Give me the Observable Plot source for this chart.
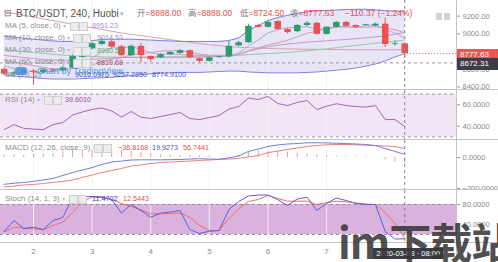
<!DOCTYPE html>
<html><head><meta charset="utf-8">
<script src="https://cdn.jsdelivr.net/npm/d3@7"></script>
<script src="https://cdn.jsdelivr.net/npm/@observablehq/plot@0.6"></script>
<style>
html,body{margin:0;padding:0;background:#fff;}
#chart{position:relative;width:498px;height:262px;overflow:hidden;font-family:"Liberation Sans","Noto Sans CJK SC",sans-serif;background:#fff;}
#chart svg{position:absolute;left:0;overflow:hidden;}
.t{position:absolute;white-space:nowrap;line-height:1;}
.sep{position:absolute;left:0;width:498px;height:1px;background:#c4c4c4;}
.ic{position:absolute;width:7px;height:7px;border:1px solid #cfcfcf;background:#ececec;}
</style></head><body><div id="chart"></div>
<script>
// ---------- data ----------
const times = d3.range(42).map(i => new Date(Date.UTC(2020, 2, 1, 12) + i * 4 * 3600 * 1000));
const opens  = [8600,8545,8560,8580,8565,8590,8585,8615,8735,8830,8880,8910,8855,8755,8860,8745,8730,8765,8780,8810,8720,8690,8735,8740,8865,8900,9095,9075,9140,9050,9025,9095,9120,8995,9075,9130,9095,9095,9090,9110,8880,8888];
const highs  = [8615,8580,8600,8600,8605,8610,8630,8760,8830,8905,8950,8925,8870,8875,8890,8750,8775,8800,8825,8820,8730,8740,8750,8915,8915,9110,9110,9145,9150,9060,9105,9140,9130,9085,9140,9140,9100,9110,9120,9180,8920,8888];
const lows   = [8530,8520,8545,8420,8550,8570,8570,8600,8725,8820,8870,8840,8740,8745,8675,8680,8720,8755,8770,8720,8675,8680,8725,8730,8855,8890,9060,9065,9040,9000,9015,9085,8985,8985,9065,9075,9060,9085,9080,8845,8860,8724.5];
const closes = [8545,8560,8580,8565,8590,8585,8615,8745,8810,8890,8915,8850,8755,8860,8755,8710,8765,8790,8810,8730,8690,8730,8740,8860,8900,9085,9075,9130,9050,9015,9095,9120,8995,9075,9130,9085,9075,9100,9110,8880,8888,8777.63];
const ma5  = [8640,8610,8590,8570,8568,8576,8587,8620,8669,8729,8795,8842,8844,8854,8827,8786,8769,8776,8766,8761,8757,8750,8740,8750,8784,8863,8932,9010,9048,9071,9073,9082,9055,9060,9083,9081,9072,9093,9100,9050,9011,8951.23];
const ma10 = [8700,8680,8660,8640,8620,8605,8600,8610,8625,8648,8686,8714,8732,8761,8778,8790,8805,8810,8810,8794,8771,8759,8758,8758,8772,8810,8841,8875,8899,8927,8968,9007,9032,9054,9077,9077,9077,9074,9080,9066,9046,9014.53];
const ma30 = [8820,8810,8800,8790,8780,8770,8760,8755,8750,8745,8740,8738,8736,8735,8734,8733,8732,8733,8735,8737,8740,8744,8748,8752,8758,8766,8772,8778,8784,8790,8800,8810,8820,8832,8845,8858,8870,8882,8895,8905,8918,8930.57];
const ma60 = [9250,9230,9210,9190,9170,9150,9130,9110,9090,9070,9050,9030,9010,8995,8980,8965,8950,8935,8920,8905,8890,8878,8868,8858,8850,8845,8840,8836,8833,8830,8828,8826,8825,8824,8823,8822,8821,8821,8820,8820,8820,8819.68];
const bbUpper = [8975,8965,8950,8940,8930,8920,8915,8915,8915,8925,8935,8940,8940,8940,8935,8930,8925,8920,8915,8915,8915,8915,8915,8925,8955,9040,9095,9150,9185,9210,9230,9250,9260,9265,9270,9275,9278,9278,9272,9262,9255,9257.285];
const bbLower = [8540,8525,8515,8505,8495,8490,8490,8490,8495,8500,8505,8510,8520,8530,8540,8550,8555,8560,8565,8565,8565,8570,8575,8580,8580,8570,8565,8560,8560,8560,8560,8565,8570,8580,8590,8600,8615,8635,8660,8695,8740,8774.91];
const bbBasis = [8757,8745,8733,8722,8712,8705,8702,8702,8705,8712,8720,8725,8730,8735,8737,8740,8740,8740,8740,8740,8740,8742,8745,8752,8768,8805,8830,8855,8872,8885,8895,8907,8915,8922,8930,8937,8946,8956,8966,8978,8997,9016.0975];
const rsi = [36.9,41.5,38,37.3,36.8,41.5,43.4,50.4,53.3,55.6,57,54.2,48.6,53.7,48.4,47.2,49,50.9,52.8,47.2,46.2,48.1,50,56,58.4,66.2,65,67.8,61.2,59.3,62.2,64,55.6,58.7,61,59.3,58.4,57.8,59.3,46.2,46.2,39.601];
const macd = [-173,-166,-161,-154,-145,-135,-116,-97,-81,-65,-45,-29,-23,-16,-15,-15,-15,-14,-13,-10,-8,-10,-11,-3,10,39,55,71,81,87,90,95,95,94,92,90,87,84,77,58,39,19.9273];
const signal = [-190,-184,-177,-174,-168,-161,-155,-145,-129,-113,-97,-84,-71,-55,-48,-39,-32,-29,-26,-23,-19,-16,-13,-10,-6,3,13,32,41,52,61,71,77,82,84,84,82,79,77,74,71,56.7441];
const hist = [17,18,16,20,23,26,39,48,48,48,52,55,48,39,33,24,17,15,13,13,11,6,2,7,16,36,42,39,40,35,29,24,18,12,8,6,5,5,0,-16,-32,-36.8168];
const stochK = [26,48,31.4,34.6,30,48,54,94,96,96,94,90,63,80,68,54.6,62.6,65,68,30,22,26.6,28,70,86,97,99,99,90,78,91,94.6,68,82,93,88,82,80,80,26,11,11.4702];
const stochD = [25,34.6,33,31.4,29.4,38,44.6,64,86,95,96,90,82,76,69,61.4,61.4,62,62.6,54.6,38,28,28,52,71.4,86,90,98,92,86.6,86.6,86.6,80,84,86.6,85.4,83,81,80,64,42,12.5443];
const dayTicks = [2,3,4,5,6,7].map(d => new Date(Date.UTC(2020, 2, d)));
const priceTicks = [8400,8600,8800,9000,9200];
const rsiTicks = [40,60];
const macdTicks = [-200,0];
const stochTicks = [40,80];
const lastClose = 8777.63, crossPrice = 8672.31;

// ---------- layout helpers ----------
const chart = document.getElementById("chart");
const rows = times.map((t,i) => ({t, o:opens[i], h:highs[i], l:lows[i], c:closes[i],
  ma5:ma5[i], ma10:ma10[i], ma30:ma30[i], ma60:ma60[i], bu:bbUpper[i], bl:bbLower[i], bb:bbBasis[i],
  rsi:rsi[i], macd:macd[i], sig:signal[i], hist:hist[i], k:stochK[i], d:stochD[i]}));
const lastT = times[times.length-1];
const X_DOMAIN = [new Date(Date.UTC(2020,2,1,10,29)), new Date(Date.UTC(2020,2,9,5,12))];
const GREEN = "#2a9d6c", RED = "#e9524f";
const grid = Plot.ruleX(dayTicks, {stroke:"#f1f1f1"});
const cross = Plot.ruleX([lastT], {stroke:"#8a8a8a", strokeDasharray:"3,3"});
const ax = (ticks, fmt) => Plot.axisY({anchor:"right", ticks, tickFormat:d3.format(fmt), tickSize:3, tickPadding:3, label:null, stroke:"#9a9a9a", fill:"#8a8a8a", fontSize:7.5});

function panel(top, h, ydom, yrange, marks, mb=0) {
  const p = Plot.plot({width:498, height:h, marginLeft:0, marginRight:42, marginTop:0, marginBottom:mb,
    x:{type:"utc", domain:X_DOMAIN, range:[0,456], axis:null},
    y:{domain:ydom, range:yrange, axis:null},
    color:{type:"identity"},
    style:{fontFamily:"'Liberation Sans',sans-serif", fontSize:"7.5px", background:"transparent", overflow:"hidden"},
    marks});
  p.style.top = top + "px";
  chart.appendChild(p);
  return p;
}
function txt(x, y, s, color, size=8, extra="") {
  const d = document.createElement("div");
  d.className = "t"; d.style.left = x+"px"; d.style.top = (y - size*0.55)+"px";
  d.style.fontSize = size+"px"; d.style.color = color; d.style.cssText += extra;
  d.innerHTML = s; chart.appendChild(d); return d;
}
function icons(x, y) {
  for (const dx of [0, 9]) { const e = document.createElement("div"); e.className="ic";
    e.style.left=(x+dx)+"px"; e.style.top=(y-4)+"px"; chart.appendChild(e); }
}

// ---------- main price panel ----------
const mainP = panel(0, 89, [8400,9200], [86.5,15.7], [
  Plot.areaY(rows, {x:"t", y1:"bl", y2:"bu", fill:"#e7e5f6", curve:"linear"}),
  grid,
  Plot.ruleY([crossPrice], {stroke:"#9a9a9a", strokeDasharray:"3,3"}),
  Plot.line(rows, {x:"t", y:"ma60", stroke:"#d9a0b8", strokeWidth:1}),
  Plot.line(rows, {x:"t", y:"ma30", stroke:"#9cc7a4", strokeWidth:1}),
  Plot.line(rows, {x:"t", y:"ma10", stroke:"#d69ab4", strokeWidth:1}),
  Plot.line(rows, {x:"t", y:"bb", stroke:"#c99ac0", strokeWidth:1}),
  Plot.line(rows, {x:"t", y:"ma5", stroke:"#b7a3dd", strokeWidth:1}),
  Plot.line(rows, {x:"t", y:"bu", stroke:"#7f7fe6", strokeWidth:1}),
  Plot.line(rows, {x:"t", y:"bl", stroke:"#7f7fe6", strokeWidth:1}),
  Plot.ruleY([lastClose], {x1:lastT, x2:X_DOMAIN[1], stroke:RED, strokeDasharray:"1,2"}),
  Plot.ruleX(rows, {x:"t", y1:"l", y2:"h", stroke:d => d.c >= d.o ? GREEN : RED, strokeWidth:1}),
  Plot.ruleX(rows, {x:"t", y1:"o", y2:d => Math.abs(d.c-d.o) < 8 ? d.o + (d.c >= d.o ? 8 : -8) : d.c,
    stroke:d => d.c >= d.o ? GREEN : RED, strokeWidth:6.5, strokeLinecap:"butt"}),
  cross,
  ax(priceTicks, ".2f")
]);

// ---------- RSI ----------
panel(90, 49, [40,60], [35.7,14.3], [
  Plot.rect([0], {x1:X_DOMAIN[0], x2:X_DOMAIN[1], y1:30, y2:70, fill:"#f2e5f5"}),
  grid,
  Plot.ruleY([70,30], {stroke:"#9a9a9a", strokeDasharray:"3,3"}),
  Plot.line(rows, {x:"t", y:"rsi", stroke:"#9a6bb5", strokeWidth:1}),
  cross,
  ax(rsiTicks, ".4f")
]);

// ---------- MACD ----------
panel(140, 49, [-200,0], [48,17], [
  grid,
  Plot.ruleX(rows, {x:"t", y1:0, y2:"hist", stroke:"#f29a9a", strokeWidth:1}),
  Plot.line(rows, {x:"t", y:"sig", stroke:"#ee7f7f", strokeWidth:1}),
  Plot.line(rows, {x:"t", y:"macd", stroke:"#6b7fe3", strokeWidth:1}),
  cross,
  ax(macdTicks, ".4f")
]);

// ---------- Stoch + x axis ----------
panel(190, 72, [40,80], [34,14], [
  Plot.rect([0], {x1:X_DOMAIN[0], x2:X_DOMAIN[1], y1:20, y2:80, fill:"#d9b3dd"}),
  grid,
  Plot.ruleY([80,20], {stroke:"#9a8a9c", strokeDasharray:"3,3"}),
  Plot.line(rows, {x:"t", y:"d", stroke:"#ee6f6f", strokeWidth:1}),
  Plot.line(rows, {x:"t", y:"k", stroke:"#5c5cdc", strokeWidth:1}),
  cross,
  ax(stochTicks, ".4f"),
  Plot.axisX({ticks:dayTicks, tickFormat:d3.utcFormat("%-d"), tickSize:0, tickPadding:6, label:null, fill:"#8a8a8a", fontSize:8})
], 20);

// separators and right axis line
for (const y of [89,139,189,242]) { const s=document.createElement("div"); s.className="sep"; s.style.top=y+"px"; chart.appendChild(s); }
{ const v=document.createElement("div"); v.style.cssText="position:absolute;left:456px;top:0;width:1px;height:262px;background:#c4c4c4"; chart.appendChild(v); }

// price label boxes from the main panel scale
const ys = mainP.scale("y"), xs = mainP.scale("x");
txt(457, ys.apply(lastClose), "8777.63", "#fff", 8, "background:#ec5552;padding:2px 3px 2px 3px;width:35px;");
txt(457, ys.apply(crossPrice), "8672.31", "#fff", 8, "background:#3b3d45;padding:2px 3px 2px 3px;width:35px;");
txt(xs.apply(lastT) - 31, 252, "2020-03-08 · 08:00", "#fff", 7.5, "background:#3b3d45;padding:2px 3px;");

// ---------- legends ----------
txt(4, 14, "⊟", "#777", 9);
txt(16, 14, "BTC/USDT, 240, Huobi", "#555", 10);
txt(120, 14, "▾", "#aaa", 7);
const hdr = [["开","=8888.00",137],["高","=8888.00",188],["低","=8724.50",240],["收","=8777.63",290]];
for (const [k,v,x] of hdr) txt(x, 14, `<span style="color:#777">${k}</span>${v}`, "#e5504d", 8.5);
txt(345, 14, "−110.37 (−1.24%)", "#e5504d", 8.5);
{ for (const dx of [0,8]) { const e=document.createElement("div"); e.style.cssText=`position:absolute;left:${436+dx}px;top:13px;width:6px;height:7px;background:#d3d3d3`; chart.appendChild(e);} }

const maRows = [["MA (5, close, 0)", "8951.23", "#a08fdc", 26, 70, 92],
                ["MA (10, close, 0)", "9014.53", "#8c93dd", 38, 73, 97],
                ["MA (30, close, 0)", "8930.57", "#5fae6a", 50.5, 73, 97],
                ["MA (60, close, 0)", "8819.68", "#a6485f", 62.8, 73, 97]];
for (const [lab,val,col,y,ix,vx] of maRows) {
  txt(5, y, lab + ' <span style="color:#bbb;font-size:6px">▾</span>', "#8e8e8e", 8);
  icons(ix, y); txt(vx, y, val, col, 7.2);
}
txt(5, 75, "BB (20, 2)", "#8e8e8e", 8);
txt(75, 75, "9016.0975", "#3f52c8", 7.2);
txt(113, 75, "9257.2850", "#3f52c8", 7.2);
txt(152, 75, "8774.9100", "#3f52c8", 7.2);
{ const lg=document.createElement("div"); lg.style.cssText="position:absolute;left:15px;top:67px;width:12px;height:8px;border-radius:3px;background:#4a90d9;opacity:.85"; chart.appendChild(lg); }
txt(37, 71.5, "Chart by TradingView", "#3d8fe0", 9, "opacity:.9;");

txt(5, 100, 'RSI (14) <span style="color:#bbb;font-size:6px">▾</span>', "#8e8e8e", 8);
icons(44, 100); txt(65, 100, "39.6010", "#9447b0", 7.2);
txt(5, 148.3, 'MACD (12, 26, close, 9) <span style="color:#bbb;font-size:6px">▾</span>', "#8e8e8e", 8);
icons(94, 148.3); txt(118, 148.3, "−36.8168", "#e5504d", 7.2); txt(152, 148.3, "19.9273", "#3f52c8", 7.2); txt(183, 148.3, "56.7441", "#e5504d", 7.2);
txt(5, 199, 'Stoch (14, 1, 3) <span style="color:#bbb;font-size:6px">▾</span>', "#8e8e8e", 8);
icons(69, 199); txt(92, 199, "11.4702", "#3838cc", 7.2); txt(123, 199, "12.5443", "#e5504d", 7.2);

// watermark
txt(338, 243, '<b>im下载站</b>', "rgba(55,55,55,0.88)", 42, "font-family:'Noto Sans CJK SC',sans-serif;letter-spacing:-1px;");
</script></body></html>
